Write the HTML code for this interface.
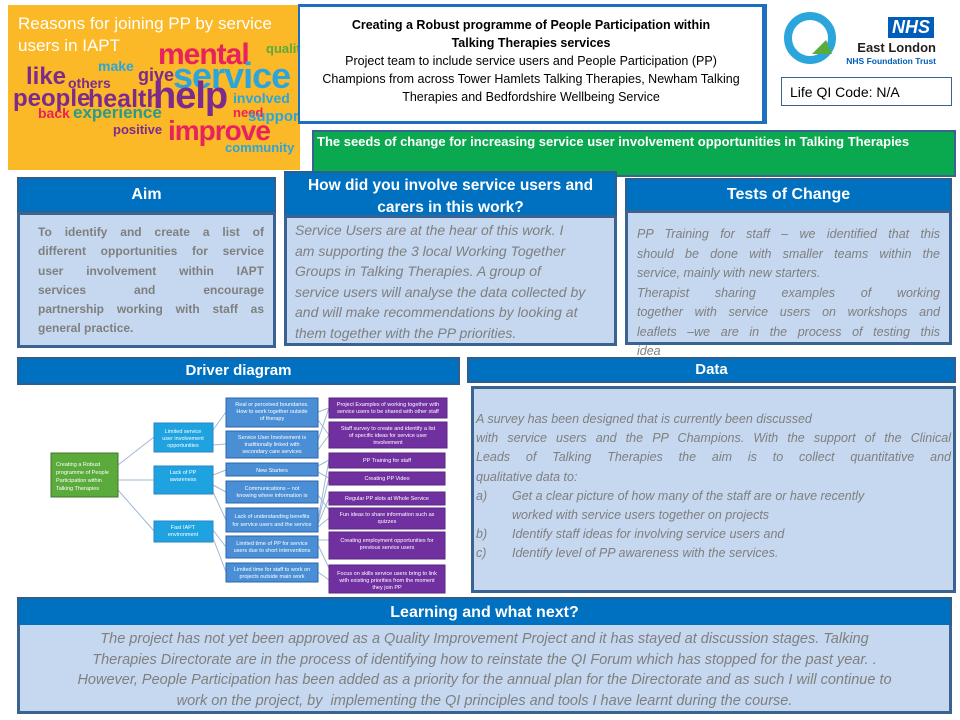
<!DOCTYPE html>
<html><head><meta charset="utf-8"><style>
*{margin:0;padding:0;box-sizing:border-box}
body{width:960px;height:720px;background:#fff;position:relative;overflow:hidden;font-family:"Liberation Sans",sans-serif}
.a{position:absolute}
.hd{background:#0070c0;color:#fff;font-weight:bold;text-align:center;border:2px solid #2e5e8e}
.bd{background:#c5d8ef;border:3px solid #3b6391;color:#7f7f7f}
.it{font-style:italic}
.j{text-align:justify;text-align-last:justify;white-space:nowrap}
.l{white-space:nowrap}
</style></head><body>

<!-- word cloud -->
<div class="a" style="left:8px;top:5px;width:292px;height:165px;background:#fbb827;overflow:hidden">
<div class="a" style="left:10px;top:8px;color:#fff;font-size:17px;line-height:22px;width:270px">Reasons for joining PP by service users in IAPT</div>
<div class="a" style="left:150px;top:33px;color:#e8215f;font-weight:bold;font-size:30px;letter-spacing:-1px">mental</div>
<div class="a" style="left:165px;top:50px;color:#2aa6dc;font-weight:bold;font-size:36px;letter-spacing:-1px">service</div>
<div class="a" style="left:258px;top:36px;color:#5bab3c;font-weight:bold;font-size:13px">quality</div>
<div class="a" style="left:18px;top:58px;color:#7c2b8d;font-weight:bold;font-size:24px">like</div>
<div class="a" style="left:5px;top:80px;color:#7c2b8d;font-weight:bold;font-size:24px">people</div>
<div class="a" style="left:80px;top:80px;color:#7c2b8d;font-weight:bold;font-size:25px">health</div>
<div class="a" style="left:145px;top:70px;color:#7c2b8d;font-weight:bold;font-size:38px;letter-spacing:-1px">help</div>
<div class="a" style="left:130px;top:60px;color:#7c2b8d;font-weight:bold;font-size:18px">give</div>
<div class="a" style="left:30px;top:100px;color:#e8215f;font-weight:bold;font-size:14px">back</div>
<div class="a" style="left:65px;top:98px;color:#2a9a8a;font-weight:bold;font-size:17px">experience</div>
<div class="a" style="left:160px;top:110px;color:#e8215f;font-weight:bold;font-size:28px;letter-spacing:-1px">improve</div>
<div class="a" style="left:217px;top:135px;color:#2aa6dc;font-weight:bold;font-size:13px">community</div>
<div class="a" style="left:225px;top:85px;color:#2aa6dc;font-weight:bold;font-size:14px">involved</div>
<div class="a" style="left:225px;top:100px;color:#e8215f;font-weight:bold;font-size:13px">need</div>
<div class="a" style="left:240px;top:103px;color:#2aa6dc;font-weight:bold;font-size:15px">support</div>
<div class="a" style="left:105px;top:117px;color:#7c2b8d;font-weight:bold;font-size:13px">positive</div>
<div class="a" style="left:60px;top:70px;color:#7c2b8d;font-weight:bold;font-size:14px">others</div>
<div class="a" style="left:90px;top:53px;color:#2aa6dc;font-weight:bold;font-size:14px">make</div>
</div>

<!-- title -->
<div class="a" style="left:298px;top:4px;width:469px;height:120px;border:3px solid #1f6fc0;border-left:none;border-top-width:3px"></div>
<div class="a" style="left:298px;top:4px;width:466px;height:119px;border:2px solid #1f6fc0;text-align:center;font-size:12.5px;line-height:18px;color:#000;padding-top:10px">
<b>Creating a Robust programme of People Participation within<br>Talking Therapies services</b><br>Project team to include service users and People Participation (PP)<br>Champions from across Tower Hamlets Talking Therapies, Newham Talking<br>Therapies and Bedfordshire Wellbeing Service</div>

<!-- logos -->
<svg class="a" style="left:782px;top:10px" width="60" height="58"><circle cx="28" cy="28" r="22" fill="none" stroke="#2aa6dc" stroke-width="8"/><path d="M30 44 L44 30 L50 44 Z" fill="#5bab3c"/></svg>
<div class="a" style="left:888px;top:17px;width:46px;height:21px;background:#005eb8;color:#fff;font-weight:bold;font-style:italic;font-size:18px;line-height:21px;text-align:center">NHS</div>
<div class="a" style="left:850px;top:40px;width:86px;text-align:right;font-weight:bold;font-size:13px;color:#231f20">East London</div>
<div class="a" style="left:830px;top:56px;width:106px;text-align:right;font-weight:bold;font-size:8.5px;color:#005eb8">NHS Foundation Trust</div>
<div class="a" style="left:781px;top:77px;width:171px;height:29px;border:1px solid #3b6391;font-size:14px;padding:6px 0 0 8px;color:#000">Life QI Code: N/A</div>

<!-- green -->
<div class="a" style="left:312px;top:130px;width:644px;height:47px;background:#0aa84f;border:2px solid #3b6391;color:#fff;font-weight:bold;font-size:13px;padding:2px 0 0 3px">The seeds of change for increasing service user involvement opportunities in Talking Therapies</div>

<!-- Aim -->
<div class="a hd" style="left:17px;top:177px;width:259px;height:36px;font-size:16px;line-height:32px">Aim</div>
<div class="a bd" style="left:17px;top:212px;width:259px;height:136px;font-weight:bold;font-size:12px;line-height:19.3px;padding:8px 9px 0 18px">
<div class="j">To identify and create a list of</div>
<div class="j">different opportunities for service</div>
<div class="j">user involvement within IAPT</div>
<div class="j">services and encourage</div>
<div class="j">partnership working with staff as</div>
<div class="l">general practice.</div></div>

<!-- involve -->
<div class="a hd" style="left:284px;top:171px;width:333px;height:46px;font-size:15.5px;line-height:22px;padding-top:2px">How did you involve service users and carers in this work?</div>
<div class="a bd it" style="left:284px;top:215px;width:333px;height:131px;font-size:14px;line-height:20.5px;padding:2px 0 0 8px;white-space:nowrap;overflow:hidden">Service Users are at the hear of this work. I<br>am supporting the 3 local Working Together<br>Groups in Talking Therapies. A group of<br>service users will analyse the data collected by<br>and will make recommendations by looking at<br>them together with the PP priorities.</div>

<!-- tests -->
<div class="a hd" style="left:625px;top:178px;width:327px;height:34px;font-size:16px;line-height:30px">Tests of Change</div>
<div class="a bd it" style="left:625px;top:210px;width:327px;height:135px;font-size:12.5px;line-height:19.5px;padding:12px 9px 0 9px;overflow:visible">
<div class="j">PP Training for staff – we identified that this</div>
<div class="j">should be done with smaller teams within the</div>
<div class="l">service, mainly with new starters.</div>
<div class="j">Therapist sharing examples of working</div>
<div class="j">together with service users on workshops and</div>
<div class="j">leaflets –we are in the process of testing this</div>
<div class="l">idea</div></div>

<!-- driver -->
<div class="a hd" style="left:17px;top:357px;width:443px;height:28px;font-size:15px;line-height:24px">Driver diagram</div>
<svg class="a" style="left:0;top:385px" width="465" height="212" font-family="Liberation Sans" font-size="5.5" fill="#fff" text-anchor="middle">
<g transform="translate(0,-385)" stroke="#9fb8d6" stroke-width="1">
<line x1="118" y1="465" x2="154" y2="437"/><line x1="118" y1="480" x2="154" y2="480"/><line x1="118" y1="490" x2="154" y2="531"/>
<line x1="213" y1="430" x2="226" y2="412"/><line x1="213" y1="445" x2="226" y2="444"/>
<line x1="213" y1="475" x2="226" y2="470"/><line x1="213" y1="485" x2="226" y2="492"/><line x1="213" y1="492" x2="226" y2="520"/>
<line x1="213" y1="530" x2="226" y2="547"/><line x1="213" y1="538" x2="226" y2="572"/>
<line x1="318" y1="412" x2="329" y2="408"/><line x1="318" y1="420" x2="329" y2="435"/><line x1="318" y1="440" x2="329" y2="408"/><line x1="318" y1="450" x2="329" y2="435"/>
<line x1="318" y1="466" x2="329" y2="460"/><line x1="318" y1="472" x2="329" y2="478"/>
<line x1="318" y1="495" x2="329" y2="510"/><line x1="318" y1="520" x2="329" y2="460"/><line x1="318" y1="522" x2="329" y2="478"/><line x1="318" y1="524" x2="329" y2="498"/><line x1="318" y1="527" x2="329" y2="518"/>
<line x1="318" y1="540" x2="329" y2="540"/><line x1="318" y1="545" x2="329" y2="568"/><line x1="318" y1="572" x2="329" y2="580"/>
</g>
<g transform="translate(0,-385)">
<rect x="51" y="453" width="67" height="44" fill="#5aab3c" stroke="#41752a"/>
<text x="56" y="466" text-anchor="start">Creating a Robust</text><text x="56" y="474" text-anchor="start">programme of People</text><text x="56" y="482" text-anchor="start">Participation within</text><text x="56" y="490" text-anchor="start">Talking Therapies</text>
<g fill="#1fa3e0" stroke="#2b85c5"><rect x="154" y="423" width="59" height="29"/><rect x="154" y="466" width="59" height="28"/><rect x="154" y="521" width="59" height="21"/></g>
<text x="183" y="433">Limited service</text><text x="183" y="440">user involvement</text><text x="183" y="447">opportunities</text>
<text x="183" y="474">Lack of PP</text><text x="183" y="481">awareness</text>
<text x="183" y="529">Fast IAPT</text><text x="183" y="536">environment</text>
<g fill="#4a8fd6" stroke="#2e65a8"><rect x="226" y="398" width="92" height="29"/><rect x="226" y="431" width="92" height="27"/><rect x="226" y="463" width="92" height="13"/><rect x="226" y="481" width="92" height="22"/><rect x="226" y="508" width="92" height="24"/><rect x="226" y="536" width="92" height="22"/><rect x="226" y="563" width="92" height="19"/></g>
<text x="272" y="406">Real or perceived boundaries.</text><text x="272" y="413">How to work together outside</text><text x="272" y="420">of therapy</text>
<text x="272" y="439">Service User Involvement is</text><text x="272" y="446">traditionally linked with</text><text x="272" y="453">secondary care services</text>
<text x="272" y="472">New Starters</text>
<text x="272" y="490">Communications – not</text><text x="272" y="497">knowing where information is</text>
<text x="272" y="518">Lack of understanding benefits</text><text x="272" y="526">for service users and the service</text>
<text x="272" y="545">Limited time of PP for service</text><text x="272" y="552">users due to short interventions</text>
<text x="272" y="571">Limited time for staff to work on</text><text x="272" y="578">projects outside main work</text>
<g fill="#7030a0" stroke="#5a2680"><rect x="329" y="398" width="118" height="20"/><rect x="329" y="422" width="118" height="26"/><rect x="329" y="453" width="116" height="15"/><rect x="329" y="472" width="116" height="13"/><rect x="329" y="492" width="116" height="13"/><rect x="329" y="508" width="116" height="21"/><rect x="329" y="532" width="116" height="27"/><rect x="329" y="565" width="116" height="28"/></g>
<text x="388" y="406">Project Examples of working together with</text><text x="388" y="413">service users to be shared with other staff</text>
<text x="388" y="430">Staff survey to create and identify a list</text><text x="388" y="437">of specific ideas for service user</text><text x="388" y="444">involvement</text>
<text x="387" y="462">PP Training for staff</text>
<text x="387" y="480">Creating PP Video</text>
<text x="387" y="500">Regular PP slots at Whole Service</text>
<text x="387" y="516">Fun ideas to share information such as</text><text x="387" y="523">quizzes</text>
<text x="387" y="542">Creating employment opportunities for</text><text x="387" y="549">previous service users</text>
<text x="387" y="575">Focus on skills service users bring to link</text><text x="387" y="582">with existing priorities from the moment</text><text x="387" y="589">they join PP</text>
</g></svg>

<!-- data -->
<div class="a hd" style="left:467px;top:357px;width:489px;height:26px;font-size:15px;line-height:22px">Data</div>
<div class="a bd it" style="left:471px;top:386px;width:485px;height:207px;font-size:12.5px;line-height:19.2px;padding:21px 2px 0 2px">
<div class="l">A survey has been designed that is currently been discussed</div>
<div class="j">with service users and the PP Champions. With the support of the Clinical</div>
<div class="j">Leads of Talking Therapies the aim is to collect quantitative and</div>
<div class="l">qualitative data to:</div>
<div class="l" style="position:relative;padding-left:36px"><span style="position:absolute;left:0">a)</span>Get a clear picture of how many of the staff are or have recently<br>worked with service users together on projects</div>
<div class="l" style="position:relative;padding-left:36px"><span style="position:absolute;left:0">b)</span>Identify staff ideas for involving service users and</div>
<div class="l" style="position:relative;padding-left:36px"><span style="position:absolute;left:0">c)</span>Identify level of PP awareness with the services.</div>
</div>

<!-- learning -->
<div class="a hd" style="left:17px;top:597px;width:935px;height:30px;font-size:16px;line-height:27px">Learning and what next?</div>
<div class="a bd it" style="left:17px;top:625px;width:935px;height:89px;font-size:14.5px;line-height:20.5px;text-align:center;padding-top:4px;border-top:none">The project has not yet been approved as a Quality Improvement Project and it has stayed at discussion stages. Talking<br>Therapies Directorate are in the process of identifying how to reinstate the QI Forum which has stopped for the past year. .<br>However, People Participation has been added as a priority for the annual plan for the Directorate and as such I will continue to<br>work on the project, by &nbsp;implementing the QI principles and tools I have learnt during the course.</div>

</body></html>
